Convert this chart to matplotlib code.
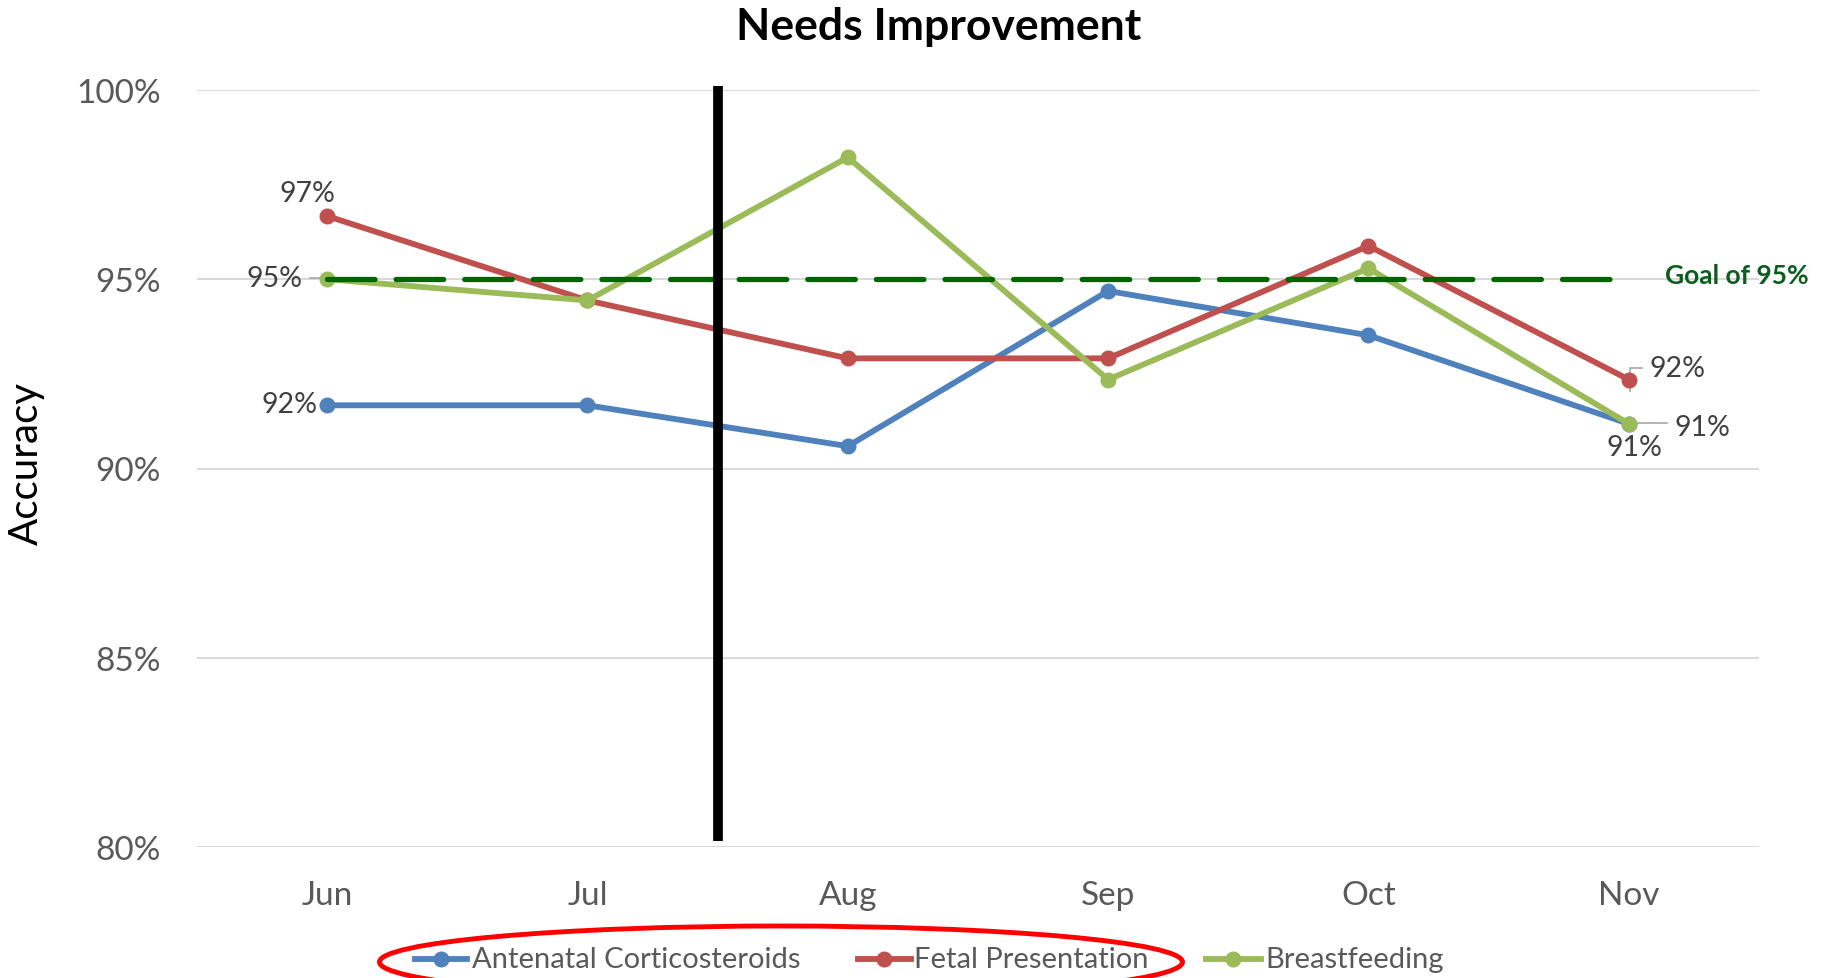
import matplotlib
matplotlib.use("Agg")
import matplotlib.pyplot as plt
from matplotlib.lines import Line2D
from matplotlib.patches import Ellipse
from matplotlib.ticker import FuncFormatter

plt.rcParams['font.family'] = ['Lato', 'DejaVu Sans']

months = ["Jun", "Jul", "Aug", "Sep", "Oct", "Nov"]
antenatal = [91.67, 91.67, 90.59, 94.69, 93.52, 91.18]
fetal = [96.67, 94.44, 92.91, 92.91, 95.88, 92.35]
breastfeeding = [95.0, 94.44, 98.22, 92.35, 95.29, 91.18]
goal = 95.0
yticks = [80, 85, 90, 95, 100]

series = [
    ("Antenatal Corticosteroids", antenatal, "#4F81BD"),
    ("Fetal Presentation", fetal, "#C0504D"),
    ("Breastfeeding", breastfeeding, "#9BBB59"),
]

W, H = 1831, 979
fig = plt.figure(figsize=(W / 100, H / 100), dpi=100)
ax = fig.add_axes([197 / W, 1 - 848 / H, 1562 / W, 757 / H])
x = list(range(len(months)))

ax.set_xlim(-0.5, len(months) - 0.5)
ax.set_ylim(80, 100)
ax.set_yticks(yticks)
ax.yaxis.set_major_formatter(FuncFormatter(lambda v, p: f"{v:.0f}%"))
ax.set_xticks(x)
ax.set_xticklabels(months)
ax.grid(axis='y', color='#D9D9D9', lw=1.5, zorder=0)
for s in ax.spines.values():
    s.set_visible(False)
ax.tick_params(axis='both', length=0, colors='#595959', labelsize=24)
ax.tick_params(axis='y', pad=26)
ax.tick_params(axis='x', pad=24)

for name, vals, col in series:
    ax.plot(x, vals, color=col, lw=4.2, marker='o', ms=10.5, zorder=3,
            solid_capstyle='round')

# goal line
ax.plot([x[0], x[-1]], [goal, goal], color='#006400', lw=3.8,
        dashes=(9, 4), dash_capstyle='round', zorder=4)
ax.text(x[-1] + 0.14, goal + 0.1, f"Goal of {goal:.0f}%", color='#0B5D1E',
        fontsize=19, fontweight='bold', va='center', ha='left')

# vertical separator
ax.plot([1.5, 1.5], [80.15, 100.1], color='black', lw=7, clip_on=False, zorder=5,
        solid_capstyle='butt')

lab = dict(fontsize=20.5, color='#404040')
ax.annotate(f"{fetal[0]:.0f}%", (0, fetal[0]), xytext=(-14, 7),
            textcoords='offset points', ha='center', va='bottom', **lab)
ax.annotate(f"{breastfeeding[0]:.0f}%", (0, breastfeeding[0]), xytext=(-18, 1),
            textcoords='offset points', ha='right', va='center', **lab)
ax.plot([-0.065, -0.0], [95.03, 95.03], color='#A6A6A6', lw=1.2, zorder=2)
ax.annotate(f"{antenatal[0]:.0f}%", (0, antenatal[0]), xytext=(-7, 1),
            textcoords='offset points', ha='right', va='center', **lab)
ax.annotate(f"{fetal[-1]:.0f}%", (5, fetal[-1]), xytext=(15, 8),
            textcoords='offset points', ha='left', va='center', **lab)
ax.plot([5.003, 5.003, 5.05], [92.05, 92.35 + 0.3, 92.35 + 0.3],
        color='#A6A6A6', lw=1.2, zorder=2)
ax.annotate(f"{breastfeeding[-1]:.0f}%", (5, breastfeeding[-1]), xytext=(33, -2),
            textcoords='offset points', ha='left', va='center', **lab)
ax.plot([5.035, 5.145], [91.2, 91.2], color='#A6A6A6', lw=1.2, zorder=2)
ax.annotate(f"{antenatal[-1]:.0f}%", (5, antenatal[-1]), xytext=(4, -17),
            textcoords='offset points', ha='center', va='center', **lab)

fig.text(939 / W, 1 - 27 / H, "Needs Improvement", fontsize=32, fontweight='bold',
         ha='center', va='center', color='black')
fig.text(26 / W, 1 - 464 / H, "Accuracy", fontsize=29, rotation=90,
         ha='center', va='center', color='black')

# legend (manual placement to match reference)
leg_y = 1 - 960 / H
leg_pos = [(415, 467, 472), (858, 911, 914), (1206, 1261, 1265)]
for (name, vals, col), (h0, h1, tx) in zip(series, leg_pos):
    fig.add_artist(Line2D([h0 / W, h1 / W], [leg_y, leg_y], color=col, lw=4.2,
                          transform=fig.transFigure))
    fig.add_artist(Line2D([(h0 + h1) / 2 / W], [leg_y], color=col, marker='o',
                          ms=10.5, transform=fig.transFigure))
    fig.text(tx / W, leg_y, name, fontsize=21, color='#595959',
             ha='left', va='center')

fig.patches.append(Ellipse((781 / W, 1 - 963 / H), 803 / W, 72 / H,
                           transform=fig.transFigure, fill=False,
                           edgecolor='#FF0000', lw=3.5))

fig.savefig("out.png", dpi=100)
